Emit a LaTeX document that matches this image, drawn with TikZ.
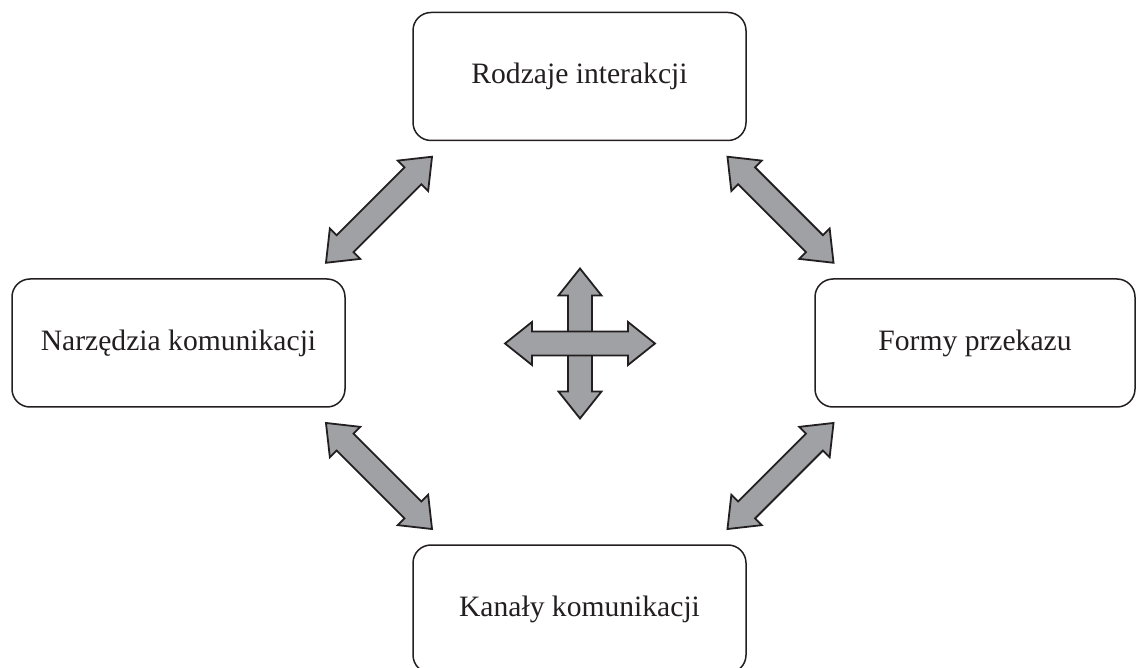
\documentclass[tikz,border=0pt]{standalone}
\usepackage{fontspec}
\setmainfont{Liberation Serif}
\usetikzlibrary{calc}
\definecolor{arrowgray}{RGB}{160,161,165}
\definecolor{inkblack}{RGB}{35,31,32}
\tikzset{
  box/.style={draw=inkblack, line width=0.75pt, rounded corners=9pt, fill=white,
    minimum width=166.5pt, minimum height=64pt, inner sep=0pt, text=inkblack,
    font=\fontsize{14.8}{17}\selectfont},
  fatfill/.style={draw=inkblack, fill=arrowgray, line width=0.9pt, line join=miter},
  pics/fatarrow/.style={code={
    \path[fatfill] (-75,0) -- (-48,21.5) -- (-48,12) -- (48,12) -- (48,21.5) -- (75,0)
      -- (48,-21.5) -- (48,-12) -- (-48,-12) -- (-48,-21.5) -- cycle;
  }}
}
\begin{document}
\begin{tikzpicture}[x=0.5pt, y=-0.5pt]
\useasboundingbox (0,0) rectangle (1136,668);
\clip (0,0) rectangle (1136,668);
\node[box] (top) at (579.5,76.5) {Rodzaje interakcji};
\node[box] (left) at (178.5,343) {Narzędzia komunikacji};
\node[box, minimum width=160pt] (right) at (975,343) {Formy przekazu};
\node[box] (bottom) at (579.5,609) {Kanały komunikacji};
% diagonal double arrows between boxes
\pic[rotate=45] at ($(top.south west)!0.5!(left.north east)$) {fatarrow};
\pic[rotate=-45] at ($(top.south east)!0.5!(right.north west)$) {fatarrow};
\pic[rotate=-45] at ($(left.south east)!0.5!(bottom.north west)$) {fatarrow};
\pic[rotate=45] at ($(right.south west)!0.5!(bottom.north east)$) {fatarrow};
% central cross
\coordinate (centre) at (580,343.5);
\pic[rotate=90] at (centre) {fatarrow};
\pic at (centre) {fatarrow};
\end{tikzpicture}
\end{document}
